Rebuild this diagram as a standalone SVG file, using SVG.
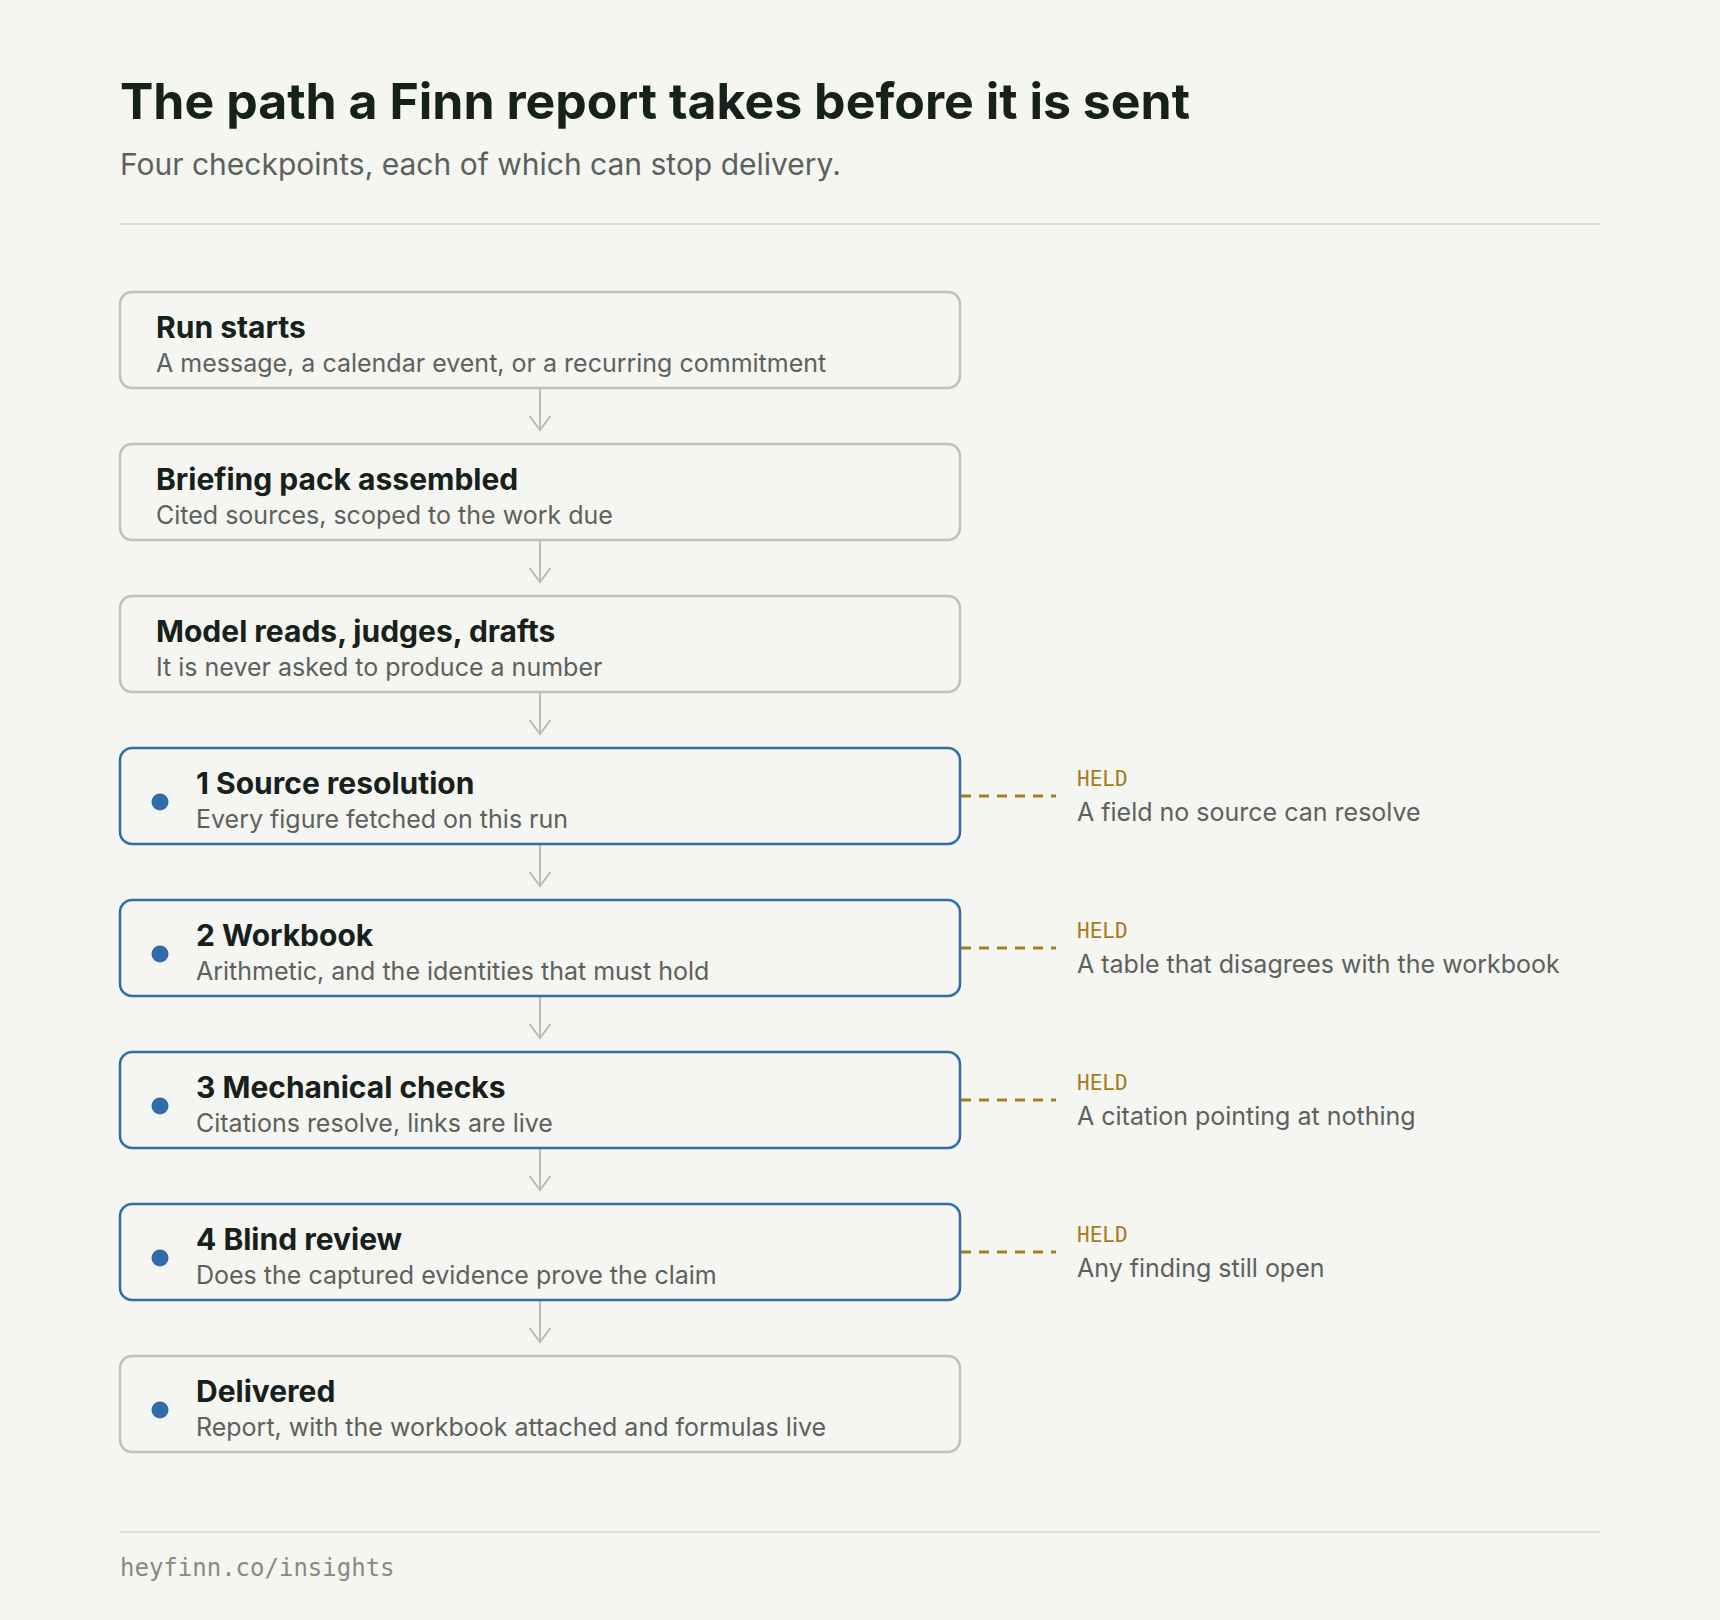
<svg xmlns="http://www.w3.org/2000/svg" width="1720" height="1620" viewBox="0 0 1720 1620">
<defs>
<style>
.bg{fill:#f5f5f1}
.h1{font-family:Inter,"Noto Sans",sans-serif;font-weight:700;font-size:50px;fill:#17211c}
.sub{font-family:Inter,"Noto Sans",sans-serif;font-size:30px;fill:#5b625d}
.rule{stroke:#dcdcd6;stroke-width:2}
.box{fill:#f5f5f1;stroke:#bfc1bb;stroke-width:2.5}
.gate{fill:#f5f5f1;stroke:#2f6ca8;stroke-width:2.5}
.t{font-family:Inter,"Noto Sans",sans-serif;font-weight:700;font-size:30px;fill:#17211c}
.d{font-family:Inter,"Noto Sans",sans-serif;font-size:25px;fill:#5b625d}
.dot{fill:#2f6ca8}
.arrow{stroke:#b9bdb6;stroke-width:2;fill:none}
.dash{stroke:#a97c1d;stroke-width:3;stroke-dasharray:10 8;fill:none}
.held{font-family:"DejaVu Sans Mono","Liberation Mono",monospace;font-size:21px;fill:#a87b1c}
.foot{font-family:"DejaVu Sans Mono","Liberation Mono",monospace;font-size:24px;fill:#858a84}
</style>
</defs>
<rect class="bg" x="0" y="0" width="1720" height="1620"/>
<g id="header">
<text class="h1" x="120" y="119">The path a Finn report takes before it is sent</text>
<text class="sub" x="120" y="175">Four checkpoints, each of which can stop delivery.</text>
<line class="rule" x1="120" y1="224" x2="1600" y2="224"/>
</g>
<g id="connectors">
<path class="arrow" d="M540 388V430M529.5 416L540 430L550.5 416"/>
<path class="arrow" d="M540 540V582M529.5 568L540 582L550.5 568"/>
<path class="arrow" d="M540 692V734M529.5 720L540 734L550.5 720"/>
<path class="arrow" d="M540 844V886M529.5 872L540 886L550.5 872"/>
<path class="arrow" d="M540 996V1038M529.5 1024L540 1038L550.5 1024"/>
<path class="arrow" d="M540 1148V1190M529.5 1176L540 1190L550.5 1176"/>
<path class="arrow" d="M540 1300V1342M529.5 1328L540 1342L550.5 1328"/>
<line class="dash" x1="961" y1="796" x2="1056" y2="796"/>
<line class="dash" x1="961" y1="948" x2="1056" y2="948"/>
<line class="dash" x1="961" y1="1100" x2="1056" y2="1100"/>
<line class="dash" x1="961" y1="1252" x2="1056" y2="1252"/>
</g>
<g id="run-starts">
<rect class="box" x="120" y="292" width="840" height="96" rx="12"/>
<text class="t" x="156" y="338">Run starts</text>
<text class="d" x="156" y="372">A message, a calendar event, or a recurring commitment</text>
</g>
<g id="briefing-pack">
<rect class="box" x="120" y="444" width="840" height="96" rx="12"/>
<text class="t" x="156" y="490">Briefing pack assembled</text>
<text class="d" x="156" y="524">Cited sources, scoped to the work due</text>
</g>
<g id="model-drafts">
<rect class="box" x="120" y="596" width="840" height="96" rx="12"/>
<text class="t" x="156" y="642">Model reads, judges, drafts</text>
<text class="d" x="156" y="676">It is never asked to produce a number</text>
</g>
<g id="source-resolution">
<rect class="gate" x="120" y="748" width="840" height="96" rx="12"/>
<circle class="dot" cx="160" cy="802" r="8.5"/>
<text class="t" x="196" y="794">1 Source resolution</text>
<text class="d" x="196" y="828">Every figure fetched on this run</text>
</g>
<g id="held-1">
<text class="held" x="1077" y="786">HELD</text>
<text class="d" x="1077" y="821">A field no source can resolve</text>
</g>
<g id="workbook">
<rect class="gate" x="120" y="900" width="840" height="96" rx="12"/>
<circle class="dot" cx="160" cy="954" r="8.5"/>
<text class="t" x="196" y="946">2 Workbook</text>
<text class="d" x="196" y="980">Arithmetic, and the identities that must hold</text>
</g>
<g id="held-2">
<text class="held" x="1077" y="938">HELD</text>
<text class="d" x="1077" y="973">A table that disagrees with the workbook</text>
</g>
<g id="mechanical-checks">
<rect class="gate" x="120" y="1052" width="840" height="96" rx="12"/>
<circle class="dot" cx="160" cy="1106" r="8.5"/>
<text class="t" x="196" y="1098">3 Mechanical checks</text>
<text class="d" x="196" y="1132">Citations resolve, links are live</text>
</g>
<g id="held-3">
<text class="held" x="1077" y="1090">HELD</text>
<text class="d" x="1077" y="1125">A citation pointing at nothing</text>
</g>
<g id="blind-review">
<rect class="gate" x="120" y="1204" width="840" height="96" rx="12"/>
<circle class="dot" cx="160" cy="1258" r="8.5"/>
<text class="t" x="196" y="1250">4 Blind review</text>
<text class="d" x="196" y="1284">Does the captured evidence prove the claim</text>
</g>
<g id="held-4">
<text class="held" x="1077" y="1242">HELD</text>
<text class="d" x="1077" y="1277">Any finding still open</text>
</g>
<g id="delivered">
<rect class="box" x="120" y="1356" width="840" height="96" rx="12"/>
<circle class="dot" cx="160" cy="1410" r="8.5"/>
<text class="t" x="196" y="1402">Delivered</text>
<text class="d" x="196" y="1436">Report, with the workbook attached and formulas live</text>
</g>
<g id="footer">
<line class="rule" x1="120" y1="1532" x2="1600" y2="1532"/>
<text class="foot" x="120" y="1576">heyfinn.co/insights</text>
</g>
</svg>
